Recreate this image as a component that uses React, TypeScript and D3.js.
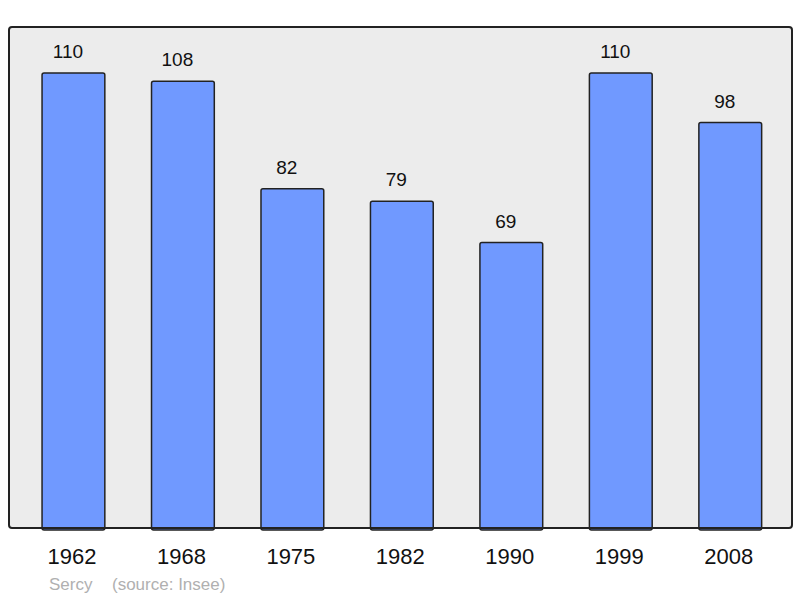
import React, { useEffect, useRef } from 'react';
import * as d3 from 'd3';

// population par recensement
const years = ['1962', '1968', '1975', '1982', '1990', '1999', '2008'];
const population = [110, 108, 82, 79, 69, 110, 98];
const commune = 'Sercy';
const source = '(source: Insee)';

const W = 800;
const H = 598;
const panel = { x0: 9, y0: 27, x1: 792, y1: 528 };

export default function App() {
  const svgRef = useRef<SVGSVGElement | null>(null);

  useEffect(() => {
    const svg = d3.select(svgRef.current);
    svg.selectAll('*').remove();

    const x = d3.scaleBand<string>()
      .domain(years)
      .range([18.7, 785])
      .paddingInner(0.4265)
      .paddingOuter(0.2133);
    const y = d3.scaleLinear().domain([0, 121.1]).range([panel.y1, panel.y0]);

    svg.append('rect')
      .attr('x', panel.x0).attr('y', panel.y0)
      .attr('width', panel.x1 - panel.x0).attr('height', panel.y1 - panel.y0)
      .attr('rx', 3).attr('ry', 3)
      .attr('fill', '#ececec');

    const data = years.map((yr, i) => ({ yr, v: population[i] }));

    svg.append('g').selectAll('rect').data(data).join('rect')
      .attr('x', d => x(d.yr)!)
      .attr('y', d => y(d.v))
      .attr('width', x.bandwidth())
      .attr('height', d => y(0) - y(d.v) + 2)
      .attr('rx', 2).attr('ry', 2)
      .attr('fill', '#7099ff')
      .attr('stroke', '#222')
      .attr('stroke-width', 1.5);

    // cadre par-dessus les barres
    svg.append('rect')
      .attr('x', panel.x0).attr('y', panel.y0)
      .attr('width', panel.x1 - panel.x0).attr('height', panel.y1 - panel.y0)
      .attr('rx', 3).attr('ry', 3)
      .attr('fill', 'none')
      .attr('stroke', '#222')
      .attr('stroke-width', 2);

    svg.append('g').selectAll('text').data(data).join('text')
      .attr('x', d => x(d.yr)! + x.bandwidth() / 2 - 5.5)
      .attr('y', d => y(d.v) - 15)
      .attr('text-anchor', 'middle')
      .attr('font-size', 19)
      .attr('fill', '#111')
      .text(d => d.v);

    svg.append('g').selectAll('text').data(years).join('text')
      .attr('x', d => x(d)! + x.bandwidth() / 2 - 1.5)
      .attr('y', 564)
      .attr('text-anchor', 'middle')
      .attr('font-size', 22)
      .attr('fill', '#111')
      .text(d => d);

    svg.append('text')
      .attr('x', 49).attr('y', 590)
      .attr('font-size', 17).attr('fill', '#b0b0b0')
      .text(commune);
    svg.append('text')
      .attr('x', 112).attr('y', 590)
      .attr('font-size', 17).attr('fill', '#b0b0b0')
      .text(source);
  }, []);

  return (
    <svg
      ref={svgRef}
      width={W}
      height={H}
      style={{ position: 'absolute', left: 0, top: 0, fontFamily: '"Liberation Sans", Arial, sans-serif', background: '#fff' }}
    />
  );
}
